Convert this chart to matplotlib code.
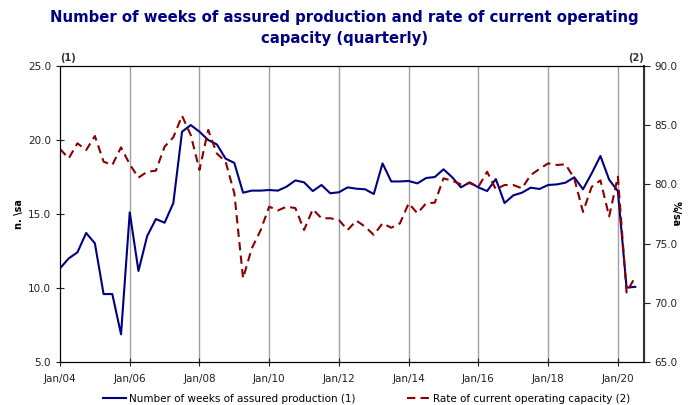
import numpy as np
import matplotlib
matplotlib.use("Agg")
import matplotlib.pyplot as plt

# quarterly data, 2004Q1 .. 2020Q3
weeks = [11.33, 12.0, 12.41, 13.72, 13.02, 9.59, 9.59, 6.87, 15.11, 11.15,
         13.51, 14.66, 14.41, 15.74, 20.56, 21.01, 20.56, 20.0, 19.7, 18.74,
         18.45, 16.44, 16.58, 16.58, 16.62, 16.58, 16.85, 17.27, 17.14, 16.55,
         16.96, 16.4, 16.47, 16.8, 16.71, 16.67, 16.35, 18.42, 17.2, 17.2,
         17.23, 17.07, 17.43, 17.5, 18.02, 17.48, 16.8, 17.14, 16.8, 16.55,
         17.36, 15.74, 16.26, 16.44, 16.78, 16.69, 16.96, 17.0, 17.12, 17.48,
         16.67, 17.75, 18.92, 17.32, 16.55, 10.02, 10.08]
capacity = [82.99, 82.2, 83.47, 82.9, 84.09, 81.92, 81.64, 83.13, 81.7, 80.57,
            81.07, 81.16, 83.19, 83.98, 85.8, 84.17, 81.22, 84.6, 82.6, 81.92,
            79.25, 72.07, 74.6, 76.1, 78.12, 77.8, 78.12, 78.0, 76.15, 77.9,
            77.14, 77.14, 76.99, 76.15, 76.94, 76.43, 75.73, 76.71, 76.34, 76.71,
            78.4, 77.56, 78.4, 78.46, 80.51, 80.31, 80.0, 80.1, 79.8, 81.07,
            79.59, 79.95, 79.95, 79.67, 80.79, 81.3, 81.78, 81.64, 81.7, 80.5,
            77.68, 79.8, 80.34, 77.3, 80.65, 70.87, 72.2]
tick_labels = ["Jan/04", "Jan/06", "Jan/08", "Jan/10", "Jan/12",
               "Jan/14", "Jan/16", "Jan/18", "Jan/20"]

navy = "#000080"
dred = "#8b0000"

x = np.arange(len(weeks))

fig = plt.figure(figsize=(6.89, 4.05), dpi=100)
ax = fig.add_axes([0.0871, 0.1062, 0.8476, 0.7308])
ax2 = ax.twinx()

l1, = ax.plot(x, weeks, color=navy, lw=1.5,
              label="Number of weeks of assured production (1)")
l2, = ax2.plot(x, capacity, color=dred, lw=1.5, ls=(0, (4, 2.5)),
               label="Rate of current operating capacity (2)")

xt = np.arange(0, 65, 8)
ax.set_xlim(0, 67)
ax.set_xticks(xt)
ax.set_xticklabels(tick_labels)
for v in xt[1:]:
    ax.axvline(v, color="#a0a0a0", lw=1, zorder=0)

ax.set_ylim(5, 25)
ax.set_yticks(np.arange(5, 25.1, 5))
ax.set_yticklabels(["%.1f" % v for v in np.arange(5, 25.1, 5)])
ax2.set_ylim(65, 90)
ax2.set_yticks(np.arange(65, 90.1, 5))
ax2.set_yticklabels(["%.1f" % v for v in np.arange(65, 90.1, 5)])

ax.tick_params(axis="both", direction="inout", length=6, labelsize=7.5, colors="#222222")
ax.tick_params(axis="x", pad=6)
ax2.tick_params(axis="y", direction="out", length=4, labelsize=7.5, colors="#222222")
for s in ax2.spines.values():
    s.set_color("black")
ax2.spines["right"].set_color("#333333")
ax2.spines["right"].set_linewidth(1.5)

ax.set_ylabel("n. \\sa", fontsize=7, fontweight="bold", labelpad=3)
ax2.set_ylabel("%/sa", fontsize=7, fontweight="bold", rotation=-90, labelpad=2, va="top")

fig.text(0.5, 0.975, "Number of weeks of assured production and rate of current operating\ncapacity (quarterly)",
         ha="center", va="top", fontsize=10.7, fontweight="bold", color=navy, linespacing=1.45)
fig.text(0.0871, 0.845, "(1)", fontsize=7, fontweight="bold", color="#333333", ha="left", va="bottom")
fig.text(0.935, 0.845, "(2)", fontsize=7, fontweight="bold", color="#333333", ha="right", va="bottom")

fig.legend(handles=[l1, l2], loc="lower center", bbox_to_anchor=(0.532, -0.02), ncol=2,
           frameon=False, fontsize=7.5, handlelength=2.2, columnspacing=5, handletextpad=0.3)

fig.savefig("out.png", dpi=100)
